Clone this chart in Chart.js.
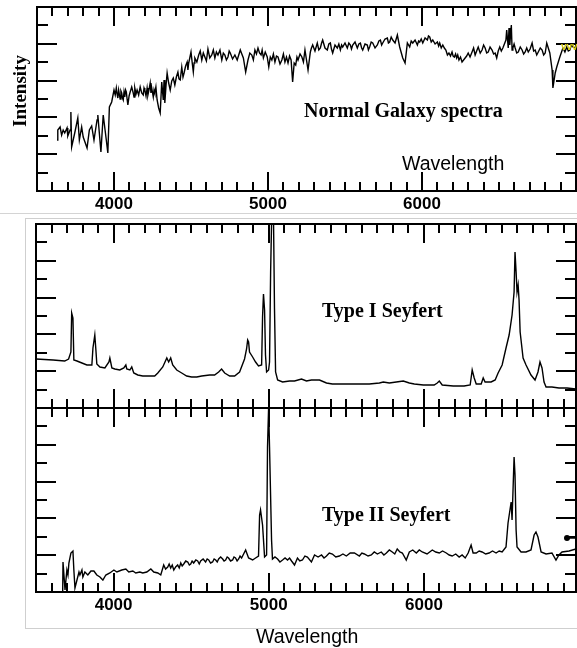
<!DOCTYPE html>
<html>
<head>
<meta charset="utf-8">
<script src="https://cdn.jsdelivr.net/npm/chart.js@4.4.1/dist/chart.umd.min.js"></script>
<style>
  html, body { margin: 0; padding: 0; background: #fff; }
  #stage { position: relative; width: 577px; height: 648px; overflow: hidden; }
  canvas { position: absolute; left: 0; }
  .rule { position: absolute; left: 0; top: 213px; width: 577px; height: 0; border-top: 1px solid #d4d4d4; }
  .frame { position: absolute; left: 25px; top: 218px; width: 600px; height: 409px; border: 1px solid #cfcfcf; }
</style>
</head>
<body>
<div id="stage">
  <div class="rule"></div>
  <div class="frame"></div>
  <canvas id="normal" width="577" height="213" style="top:0"></canvas>
  <canvas id="sey1" width="577" height="192" style="top:218px"></canvas>
  <canvas id="sey2" width="577" height="242" style="top:406px"></canvas>
</div>
<script>
// wavelength tick labels (Angstrom)
const wlTicks = [4000, 5000, 6000];

// normal galaxy spectrum (intensity in arbitrary units, 0-184)
const normalWl = [3630,3635,3650,3660,3670,3680,3695,3700,3715,3720,3725,3745,3765,3775,3790,3800,3825,3840,3855,3870,3890,3895,3915,3930,3950,3960,3970,3985,
  4000,4008,4015,4020,4025,4030,4040,4045,4050,4055,4060,4065,4070,4075,4080,4085,4090,4098,4105,4115,4125,4130,4135,4143,4150,4160,4170,4180,4190,4195,4200,4208,4215,4220,4228,4235,4240,4245,4255,4260,4265,4272,4280,4290,4300,4310,4320,4325,4330,4338,4345,4355,4365,4375,4385,4395,4405,4415,4422,4430,4440,4448,4455,4465,4475,4480,4485,4492,
  4500,4508,4515,4520,4525,4538,4550,4560,4570,4580,4590,4600,4610,4622,4635,4645,4655,4665,4675,4688,4700,4710,4720,4730,4740,4748,4755,4770,4785,4800,4820,4830,4840,4855,4870,4882,4895,4905,4915,4925,4935,4945,4955,4962,4970,4982,4995,
  5005,5015,5025,5035,5045,5055,5065,5078,5090,5100,5110,5120,5130,5140,5150,5160,5170,5180,5188,5195,5208,5220,5230,5240,5260,5275,5282,5290,5305,5320,5330,5340,5348,5355,5370,5385,5395,5405,5412,5420,5435,5450,5460,5470,5478,5485,
  5500,5515,5525,5535,5542,5550,5565,5580,5590,5600,5608,5615,5630,5645,5652,5660,5670,5680,5695,5710,5720,5730,5738,5745,5760,5775,5782,5790,5800,5810,5825,5840,5855,5875,5890,5905,5920,5930,5940,5955,5970,5978,5985,5995,
  6005,6020,6035,6042,6050,6060,6070,6085,6100,6108,6115,6125,6135,6145,6155,6165,6175,6185,6195,6202,6210,6218,6225,6232,6240,6250,6260,6270,6280,6290,6300,6312,6325,6335,6345,6355,6365,6378,6390,6400,6410,6420,6430,6442,6455,6465,6475,6485,6495,
  6505,6515,6525,6545,6550,6560,6565,6570,6580,6585,6590,6598,6605,6615,6625,6638,6650,6660,6670,6680,6690,6702,6715,6725,6735,6745,6755,6768,6780,6790,6800,6810,6830,6845,6850,6865,6875,6895,6915,6928,6940,6950,6960,6970,6980,7000];
const normalFlux = [51,61,64,56,61,58,63,55,61,79,44,58,73,51,64,54,43,61,65,51,71,76,39,76,51,38,84,89,
  101,96,103,97,93,101,92,100,98,93,91,99,94,101,99,92,86,95,99,104,98,94,103,97,101,96,104,98,96,103,101,95,103,96,102,108,98,103,94,101,98,104,91,83,78,109,91,111,88,106,118,108,101,110,113,106,114,119,112,111,124,114,118,125,129,121,128,133,
  139,128,119,128,133,129,136,140,131,138,134,130,142,133,136,141,133,139,136,141,131,138,136,131,134,140,138,132,136,131,141,137,133,119,131,138,136,131,141,137,143,138,136,141,133,139,134,
  124,134,131,137,129,135,134,127,131,137,129,134,128,135,131,109,128,126,134,131,137,134,129,141,121,139,143,146,140,148,141,143,148,151,143,141,147,148,142,138,146,143,147,141,146,144,
  148,143,148,146,142,146,149,143,147,148,143,141,147,146,141,144,149,148,143,146,150,151,146,148,152,153,148,149,154,151,148,156,144,133,128,148,144,150,148,151,146,150,149,152,
  148,153,151,155,154,149,151,147,149,145,148,143,146,143,141,136,138,135,139,135,134,137,133,136,131,134,129,131,133,135,138,134,139,143,136,140,144,138,141,146,143,138,139,144,141,137,138,133,140,
  144,140,143,151,161,143,163,146,166,141,143,147,143,138,139,144,141,137,139,143,139,142,148,140,141,136,139,143,141,136,138,148,138,121,103,118,124,134,143,139,144,140,141,146,144,143];

// Type I Seyfert spectrum (middle panel)
const sey1Wl = [3500,3610,3685,3710,3725,3730,3738,3744,3764,3796,3828,3860,3867,3879,3886,3892,3912,3944,3970,3976,3989,4008,4040,4066,4079,4085,4105,4117,4130,4156,4188,4233,4265,4285,4317,4343,4355,4368,4381,4407,4439,4471,4503,4536,4568,4619,4651,4677,4696,4716,4748,4780,4812,4844,4857,4864,4870,4876,4896,4915,4934,4954,4960,4966,4973,4979,4986,4999,5005,5012,5018,5031,5037,5044,5057,5089,5134,5166,5211,5243,5275,5327,5372,5410,5455,5520,5584,5648,5713,5738,5777,5822,5867,5906,5938,5996,6066,6086,6099,6118,6189,6259,6298,6311,6324,6337,6369,6382,6394,6433,6459,6478,6504,6529,6549,6568,6581,6587,6594,6600,6607,6613,6620,6639,6658,6690,6716,6735,6748,6761,6774,6787,6825,6870,6922,6980];
const sey1Flux = [49,48,47,49,56,95,90,48,47,45,43,43,60,73,58,44,41,40,46,50,40,39,38,40,43,39,38,41,35,33,32,32,32,35,41,50,46,50,43,38,35,32,31,31,32,33,33,36,39,35,32,32,36,49,59,68,66,56,51,46,42,43,91,114,98,53,36,38,46,136,184,184,99,36,28,26,27,27,29,27,28,28,25,24,24,24,24,24,25,26,25,26,27,25,24,23,23,25,27,23,22,22,23,38,30,24,24,30,26,26,28,35,43,60,73,93,116,156,136,116,123,108,76,50,43,33,28,36,46,40,26,21,21,20,20,19];

// Type II Seyfert spectrum (bottom panel)
const sey2Wl = [3672,3674,3687,3699,3706,3712,3725,3738,3744,3751,3764,3777,3783,3796,3802,3815,3834,3854,3873,3892,3912,3931,3950,3976,4002,4021,4053,4079,4098,4124,4143,4169,4188,4214,4240,4259,4285,4304,
  4323,4335,4349,4358,4368,4378,4388,4400,4413,4423,4433,4442,4452,4465,4478,4488,4497,4506,4516,4530,4542,4552,4561,4577,4593,4603,4613,4625,4638,4648,4658,4668,4677,4690,4703,4712,4722,4732,4741,4754,4767,4776,4786,4796,4806,4815,4825,4851,4870,4896,4915,4934,4941,4947,4960,4973,4986,4992,4999,
  5005,5018,5024,5040,5057,5072,5089,5105,5121,5134,5147,5166,5185,5200,5217,5233,5249,5275,5295,5318,5340,5356,5372,5390,5410,5432,5455,5478,5500,5525,5552,5584,5600,5616,5640,5661,5680,5700,5725,5742,5758,5777,5796,5812,5828,5845,5861,5886,5906,5928,5951,5970,5989,
  6020,6054,6076,6099,6120,6144,6163,6182,6205,6227,6246,6266,6285,6304,6317,6337,6356,6375,6398,6420,6442,6465,6485,6504,6529,6542,6562,6568,6581,6587,6594,6600,6626,6658,6690,6710,6722,6735,6755,6787,6825,6851,6870,6890,6935,6980];
const sey2Flux = [0,30,2,22,17,29,39,41,22,4,12,20,17,22,15,20,17,21,21,17,15,12,17,19,22,20,22,23,20,21,19,20,19,20,23,20,19,17,
  27,23,25,28,24,27,22,25,27,24,29,26,28,31,30,27,28,31,29,32,31,28,31,33,30,33,32,29,30,33,32,30,33,35,33,31,32,35,34,31,32,35,34,31,33,36,34,42,34,32,34,36,77,82,67,35,37,145,184,
  145,52,33,35,33,30,32,34,32,34,31,27,34,31,32,36,35,30,37,35,37,34,36,39,38,35,36,38,36,39,39,36,39,38,36,37,40,38,40,37,39,42,40,38,43,40,39,32,40,42,39,42,40,
  38,42,40,39,41,39,37,36,38,35,37,34,39,47,39,39,41,40,38,39,41,39,41,40,45,69,90,72,135,117,62,45,40,40,42,57,60,55,40,38,39,32,37,40,41,43];

const TICK_UNIT = 18.4;   // intensity between y tick marks

// closed frame with inward ticks, like the original plots
const frameTicks = {
  id: 'frameTicks',
  afterDatasetsDraw(chart, args, opts) {
    const { ctx, chartArea: a, scales: { x, y } } = chart;
    ctx.save();
    ctx.strokeStyle = '#000';
    ctx.lineWidth = 2;
    ctx.strokeRect(a.left, a.top, a.right - a.left, a.bottom - a.top);
    ctx.beginPath();
    for (let w = 3600; w < x.max; w += 100) {
      const px = Math.round(x.getPixelForValue(w));
      const len = w % 1000 === 0 ? 19 : 9;
      if (opts.top) { ctx.moveTo(px, a.top); ctx.lineTo(px, a.top + len); }
      if (opts.bottom) { ctx.moveTo(px, a.bottom); ctx.lineTo(px, a.bottom - len); }
    }
    for (let k = 1; k < 10; k++) {
      const py = Math.round(y.getPixelForValue(k * TICK_UNIT));
      const len = k % 2 === 0 ? 20 : 11;
      ctx.moveTo(a.left, py); ctx.lineTo(a.left + len, py);
      ctx.moveTo(a.right, py); ctx.lineTo(a.right - len, py);
    }
    ctx.stroke();
    ctx.restore();
  }
};

// free text laid over the canvas (titles, axis names)
const notes = {
  id: 'notes',
  afterDraw(chart, args, opts) {
    const ctx = chart.ctx;
    (opts.items || []).forEach(n => {
      ctx.save();
      ctx.fillStyle = n.color || '#000';
      ctx.font = n.font;
      ctx.textBaseline = 'alphabetic';
      ctx.textAlign = n.align || 'left';
      ctx.translate(n.x, n.y);
      if (n.rotate) ctx.rotate(n.rotate);
      ctx.fillText(n.text, 0, 0);
      ctx.restore();
    });
    (opts.dots || []).forEach(d => {
      ctx.save();
      ctx.fillStyle = '#000';
      ctx.strokeStyle = '#000';
      ctx.lineWidth = 1.5;
      ctx.beginPath();
      ctx.arc(d.x, d.y, 3, 0, Math.PI * 2);
      ctx.fill();
      ctx.beginPath();
      ctx.moveTo(d.x, d.y); ctx.lineTo(d.x + 12, d.y);
      ctx.stroke();
      ctx.restore();
    });
  }
};

const serif = 'bold 20px "Liberation Serif", "DejaVu Serif", serif';
const sans = '19.5px "Liberation Sans", Arial, sans-serif';

function spectrum(id, { wl, flux, xMax, pad, axisHeight, ticksTop, ticksBottom, items, dots }) {
  return new Chart(document.getElementById(id), {
    type: 'line',
    data: {
      datasets: [{
        data: wl.map((w, i) => ({ x: w, y: flux[i] })),
        borderColor: '#000',
        borderWidth: 1.4,
        pointRadius: 0,
        tension: 0,
      }],
    },
    plugins: [frameTicks, notes],
    options: {
      responsive: false,
      animation: false,
      devicePixelRatio: 1,
      layout: { padding: pad },
      plugins: {
        legend: { display: false },
        tooltip: { enabled: false },
        frameTicks: { top: ticksTop, bottom: ticksBottom },
        notes: { items, dots },
      },
      scales: {
        x: {
          type: 'linear',
          min: 3500,
          max: xMax,
          display: axisHeight > 0,
          grid: { display: false, drawTicks: false },
          border: { display: false },
          afterBuildTicks: s => { s.ticks = wlTicks.map(v => ({ value: v })); },
          afterFit: s => { s.height = axisHeight; },
          ticks: {
            padding: 3,
            color: '#000',
            callback: v => String(v),
            font: { family: '"Liberation Sans", Arial, sans-serif', size: 17, weight: 'bold' },
          },
        },
        y: { min: 0, max: 184, display: false },
      },
    },
  });
}

spectrum('normal', {
  wl: normalWl, flux: normalFlux, xMax: 7000,
  pad: { left: 37, right: 1, top: 7, bottom: 0 }, axisHeight: 22,
  ticksTop: true, ticksBottom: true,
  items: [
    { text: 'Intensity', x: 26, y: 91, font: 'bold 19px "Liberation Serif", serif', align: 'center', rotate: -Math.PI / 2 },
    { text: 'Normal Galaxy spectra', x: 304, y: 117, font: serif },
    { text: 'Wavelength', x: 402, y: 170, font: sans },
    { text: 'vvv', x: 561, y: 50, font: 'bold 10px "Liberation Sans", sans-serif', color: '#d9cc10' },
  ],
});

spectrum('sey1', {
  wl: sey1Wl, flux: sey1Flux, xMax: 6980,
  pad: { left: 36, right: 1, top: 6, bottom: 2 }, axisHeight: 0,
  ticksTop: true, ticksBottom: true,
  items: [{ text: 'Type I Seyfert', x: 322, y: 99, font: serif }],
});

spectrum('sey2', {
  wl: sey2Wl, flux: sey2Flux, xMax: 6980,
  pad: { left: 36, right: 1, top: 2, bottom: 0 }, axisHeight: 56,
  ticksTop: true, ticksBottom: true,
  items: [
    { text: 'Type II Seyfert', x: 322, y: 115, font: serif },
    { text: 'Wavelength', x: 256, y: 237, font: sans },
  ],
  dots: [{ x: 567, y: 132 }],
});
</script>
</body>
</html>
